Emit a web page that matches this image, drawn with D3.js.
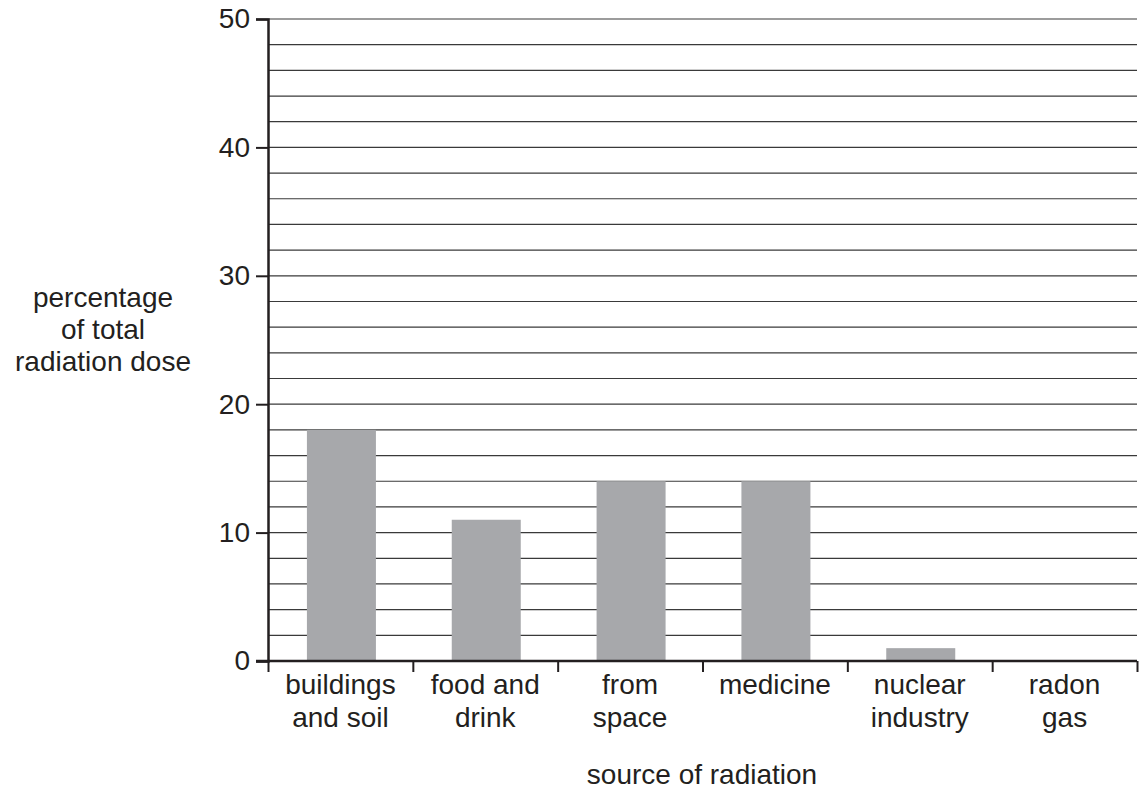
<!DOCTYPE html>
<html>
<head>
<meta charset="utf-8">
<script src="https://cdn.jsdelivr.net/npm/d3@7"></script>
<style>
  body { margin: 0; background: #fff; }
  text { font-family: "Liberation Sans", Arial, sans-serif; fill: #231f20; }
</style>
</head>
<body>
<svg width="1139" height="794"></svg>
<script>
const sources = [["buildings", "and soil"], ["food and", "drink"], ["from", "space"], ["medicine"], ["nuclear", "industry"], ["radon", "gas"]];
const percentages = [18, 11, 14, 14, 1, 0];
const yTicks = [0, 10, 20, 30, 40, 50];
const gridValues = d3.range(2, 51, 2);

const plotLeft = 268, plotRight = 1137, plotTop = 19, plotBottom = 661;
const fontSize = "28px";

const svg = d3.select("svg");

const x = d3.scaleBand()
    .domain(d3.range(sources.length))
    .range([plotLeft, plotRight])
    .paddingInner(0)
    .paddingOuter(0);

const y = d3.scaleLinear()
    .domain([0, 50])
    .range([plotBottom, plotTop]);

// grid
svg.append("g")
    .selectAll("line")
    .data(gridValues)
    .enter()
    .append("line")
    .attr("x1", plotLeft).attr("x2", plotRight)
    .attr("y1", d => y(d)).attr("y2", d => y(d))
    .attr("stroke", "#3a3a3a")
    .attr("stroke-width", 1.2);

// bars
const barW = 69;
svg.append("g")
    .selectAll("rect")
    .data(percentages)
    .enter()
    .append("rect")
    .attr("x", (d, i) => x(i) + x.bandwidth() / 2 - barW / 2 + 1)
    .attr("width", barW)
    .attr("y", d => y(d))
    .attr("height", d => plotBottom - y(d))
    .attr("fill", "#a7a8ab");

// y axis
const yAxis = d3.axisLeft(y)
    .tickValues(yTicks)
    .tickSize(12)
    .tickPadding(6);

const yg = svg.append("g")
    .attr("transform", "translate(" + plotLeft + ",0)")
    .call(yAxis);
yg.select(".domain").attr("stroke", "#231f20").attr("stroke-width", 2.5);
yg.selectAll(".tick line").attr("stroke", "#231f20").attr("stroke-width", 2);
yg.selectAll(".tick text")
    .style("font-size", fontSize)
    .style("font-family", "Liberation Sans, Arial, sans-serif")
    .attr("fill", "#231f20");

// x axis
const xLine = d3.scaleLinear().domain([0, sources.length]).range([plotLeft, plotRight]);
const xAxis = d3.axisBottom(xLine)
    .tickValues(d3.range(sources.length + 1))
    .tickSize(11)
    .tickFormat("");

const xg = svg.append("g")
    .attr("transform", "translate(0," + plotBottom + ")")
    .call(xAxis);
xg.select(".domain").attr("stroke", "#231f20").attr("stroke-width", 2.5).attr("d", "M" + (plotLeft - 12) + ",0H" + plotRight);
xg.selectAll(".tick line").attr("stroke", "#231f20").attr("stroke-width", 2);

// category labels
const labels = svg.append("g");
sources.forEach((lines, i) => {
    const t = labels.append("text")
        .attr("x", x(i) + x.bandwidth() / 2)
        .attr("y", 694)
        .attr("text-anchor", "middle")
        .style("font-size", fontSize);
    lines.forEach((ln, j) => {
        t.append("tspan")
            .attr("x", x(i) + x.bandwidth() / 2)
            .attr("dy", j === 0 ? 0 : 33)
            .text(ln);
    });
});

// axis titles
svg.append("text")
    .attr("x", 702)
    .attr("y", 784)
    .attr("text-anchor", "middle")
    .style("font-size", fontSize)
    .text("source of radiation");

const yt = svg.append("text")
    .attr("text-anchor", "middle")
    .style("font-size", fontSize);
["percentage", "of total", "radiation dose"].forEach((ln, j) => {
    yt.append("tspan")
        .attr("x", 103)
        .attr("y", 307 + j * 32)
        .text(ln);
});
</script>
</body>
</html>
